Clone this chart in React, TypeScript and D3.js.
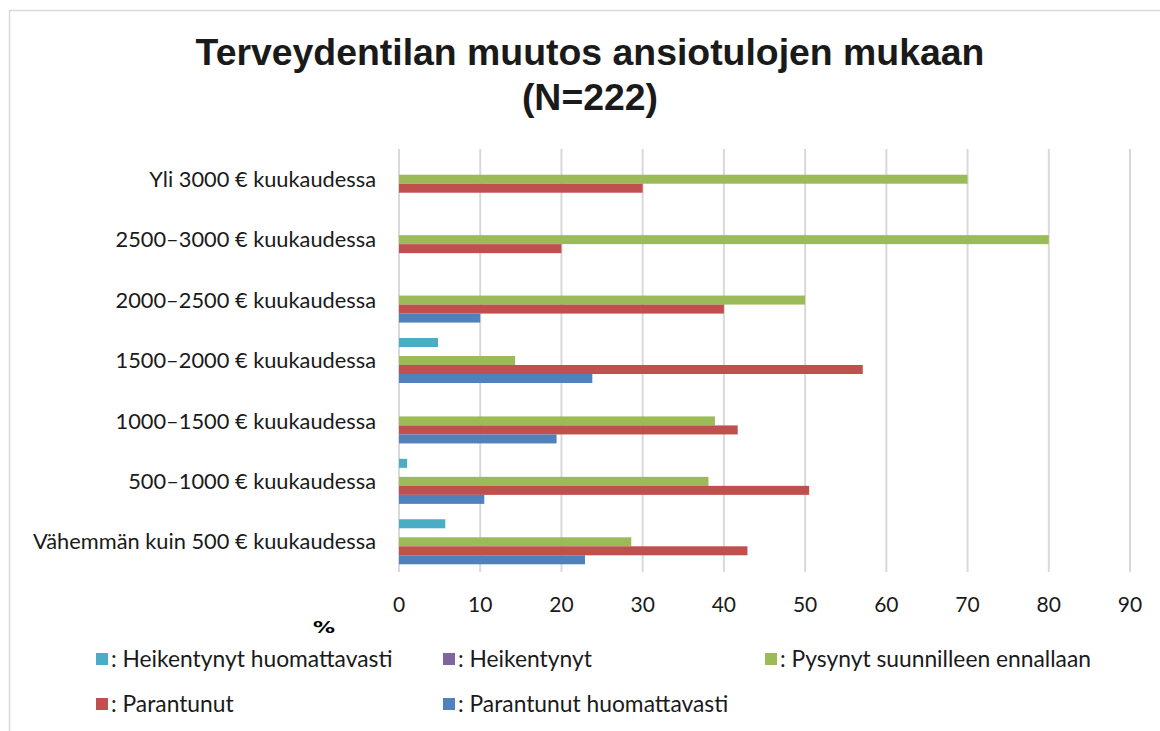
import React from "react";
import * as d3 from "d3";

const categories = [
  "Yli 3000 € kuukaudessa",
  "2500–3000 € kuukaudessa",
  "2000–2500 € kuukaudessa",
  "1500–2000 € kuukaudessa",
  "1000–1500 € kuukaudessa",
  "500–1000 € kuukaudessa",
  "Vähemmän kuin 500 € kuukaudessa",
];

const seriesNames = [
  ": Heikentynyt huomattavasti",
  ": Heikentynyt",
  ": Pysynyt suunnilleen ennallaan",
  ": Parantunut",
  ": Parantunut huomattavasti",
];

const heikentynytHuomattavasti = [0, 0, 0, 4.8, 0, 1.0, 5.7];
const heikentynyt = [0, 0, 0, 0, 0, 0, 0];
const pysynyt = [70, 80, 50, 14.3, 38.9, 38.1, 28.6];
const parantunut = [30, 20, 40, 57.1, 41.7, 50.5, 42.9];
const parantunutHuomattavasti = [0, 0, 10, 23.8, 19.4, 10.5, 22.9];

const xTicks = [0, 10, 20, 30, 40, 50, 60, 70, 80, 90];

const colors = ["#4BACC6", "#8064A2", "#9BBB59", "#C0504D", "#4F81BD"];

const seriesValues = [
  heikentynytHuomattavasti,
  heikentynyt,
  pysynyt,
  parantunut,
  parantunutHuomattavasti,
];

export default function App() {
  const W = 1160;
  const H = 731;
  const x = d3.scaleLinear().domain([0, 90]).range([399, 1130]);
  const p = 0.255;
  const y = d3
    .scaleBand<string>()
    .domain(categories)
    .range([149, 572])
    .paddingInner(p)
    .paddingOuter(p / 2);
  const inner = d3
    .scaleBand<number>()
    .domain(d3.range(seriesNames.length))
    .range([0, y.bandwidth()]);

  const labelFont = "Lato, 'Open Sans', sans-serif";

  const legendItems = [
    { i: 0, x: 96, y: 659 },
    { i: 1, x: 443, y: 659 },
    { i: 2, x: 765, y: 659 },
    { i: 3, x: 96, y: 704 },
    { i: 4, x: 443, y: 704 },
  ];

  return (
    <svg
      width={W}
      height={H}
      style={{ position: "absolute", left: 0, top: 0, background: "#fff" }}
    >
      <rect x={9.5} y={10.5} width={1170} height={740} fill="#fff" stroke="#d9d9d9" strokeWidth={1.5} />
      <text
        x={590}
        y={65}
        textAnchor="middle"
        fontFamily="'Liberation Sans', Arial, sans-serif"
        fontWeight="bold"
        fontSize={37.4}
        fill="#1a1a1a"
      >
        Terveydentilan muutos ansiotulojen mukaan
      </text>
      <text
        x={590}
        y={110}
        textAnchor="middle"
        fontFamily="'Liberation Sans', Arial, sans-serif"
        fontWeight="bold"
        fontSize={37.4}
        fill="#1a1a1a"
      >
        (N=222)
      </text>

      {xTicks.map((t) => (
        <line
          key={"g" + t}
          x1={x(t)}
          x2={x(t)}
          y1={149}
          y2={572}
          stroke="#d9d9d9"
          strokeWidth={2}
        />
      ))}

      {categories.map((c, ci) => (
        <g key={c} transform={`translate(0,${y(c)})`}>
          {seriesValues.map((vals, si) => (
            <rect
              key={si}
              x={x(0)}
              y={inner(si)}
              width={x(vals[ci]) - x(0)}
              height={inner.bandwidth()}
              fill={colors[si]}
            />
          ))}
        </g>
      ))}

      {categories.map((c) => (
        <text
          key={"l" + c}
          x={376}
          y={(y(c) as number) + y.bandwidth() / 2}
          dy="0.35em"
          textAnchor="end"
          fontFamily={labelFont}
          fontSize={21.8}
          fill="#1a1a1a"
        >
          {c}
        </text>
      ))}

      {xTicks.map((t) => (
        <text
          key={"t" + t}
          x={x(t)}
          y={605}
          dy="0.35em"
          textAnchor="middle"
          fontFamily={labelFont}
          fontSize={21}
          fill="#1a1a1a"
        >
          {t}
        </text>
      ))}

      <text
        x={313}
        y={627}
        dy="0.35em"
        textLength={22}
        lengthAdjust="spacingAndGlyphs"
        fontFamily="'DejaVu Sans', sans-serif"
        fontWeight="bold"
        fontSize={16}
        fill="#000"
      >
        %
      </text>

      {legendItems.map((it) => (
        <g key={"lg" + it.i}>
          <rect x={it.x} y={it.y - 6} width={12} height={12} fill={colors[it.i]} />
          <text
            x={it.x + 15}
            y={it.y}
            dy="0.35em"
            fontFamily={labelFont}
            fontSize={22.8}
            fill="#1a1a1a"
          >
            {seriesNames[it.i]}
          </text>
        </g>
      ))}
    </svg>
  );
}
